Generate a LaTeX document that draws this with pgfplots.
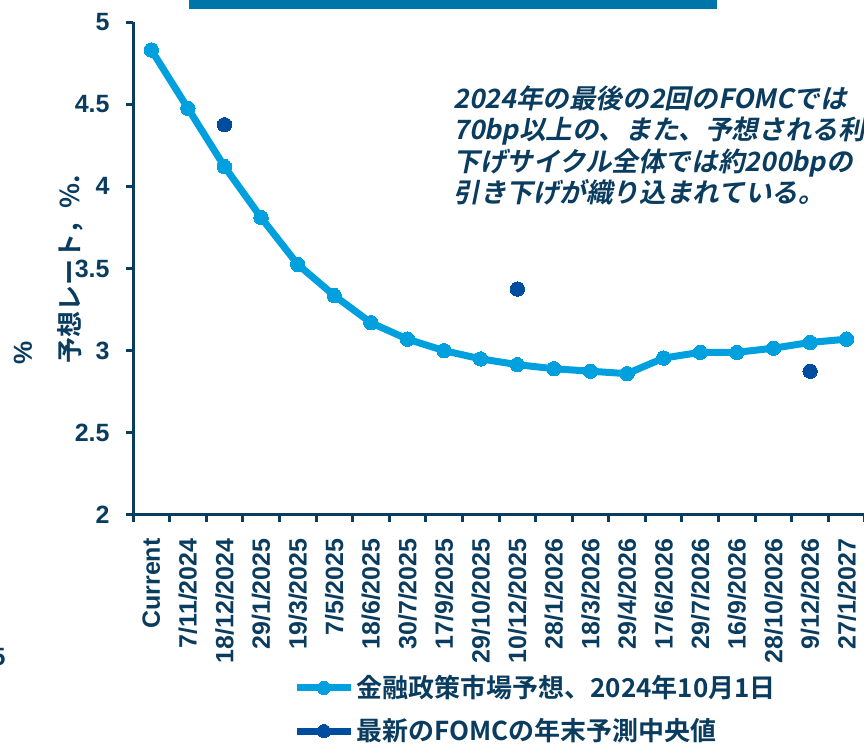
\documentclass[border=0pt]{standalone}
\usepackage{fontspec}
\usepackage{pgfplots}
\pgfplotsset{compat=1.18}
\setmainfont{Liberation Sans}
\newfontfamily\tickfont{Liberation Sans Bold}
\newfontfamily\jpb{Noto Sans CJK JP Bold}
\newfontfamily\jpbi{Noto Sans CJK JP Bold}[FakeSlant=0.2]

\definecolor{navy}{RGB}{10,60,95}
\definecolor{lineblue}{RGB}{0,160,223}
\definecolor{dotblue}{RGB}{0,77,160}
\definecolor{barblue}{RGB}{0,118,168}

\begin{document}
\begin{tikzpicture}[x=1pt,y=1pt]
\useasboundingbox (0,0) rectangle (432,372.5);
\clip (0,0) rectangle (432,372.5);
% banner strip along the top edge
\fill[barblue] (94.5,368) rectangle (358.5,372.5);
\begin{axis}[
  at={(66.5pt,115pt)}, anchor=south west,
  scale only axis, width=366pt, height=246.5pt,
  xmin=-0.5, xmax=19.5, ymin=2, ymax=5,
  axis x line=bottom, axis y line=left,
  axis line style={navy, line width=1.5pt, -},
  tick align=outside,
  major tick length=3.5pt, minor tick length=3.5pt,
  ytick={2,2.5,...,5},
  ytick style={navy, line width=1.5pt},
  xtick={0,...,19},
  major x tick style={draw=none},
  minor xtick={-0.5,0.5,...,19.5},
  minor x tick style={navy, line width=1.5pt},
  xticklabels={Current,7/11/2024,18/12/2024,29/1/2025,19/3/2025,7/5/2025,18/6/2025,30/7/2025,17/9/2025,29/10/2025,10/12/2025,28/1/2026,18/3/2026,29/4/2026,17/6/2026,29/7/2026,16/9/2026,28/10/2026,9/12/2026,27/1/2027},
  /pgf/number format/assume math mode=true,
  tick label style={font=\tickfont\fontsize{12.5}{14}\selectfont, text=navy, inner sep=0pt},
  xticklabel style={rotate=90, anchor=east},
  xticklabel shift=8pt,
  yticklabel shift=8pt,
  clip=false,
  legend style={at={(0.2186,-0.3945)}, anchor=west, draw=none, fill=none,
    inner sep=0pt, font=\jpb\fontsize{13}{15}\selectfont, text=navy,
    cells={anchor=west}, row sep=7pt, nodes={inner sep=1pt}},
  legend cell align=left,
]
\addplot[lineblue, line width=3.5pt, mark=*, mark size=3.6pt,
  mark options={fill=lineblue, draw=lineblue, line width=0pt},
  legend image code/.code={
    \draw[lineblue, line width=3.5pt] (0pt,0pt) -- (27pt,0pt);
    \draw[mark=*, mark size=3.3pt,
      mark options={fill=lineblue, draw=lineblue, line width=0pt}]
      plot coordinates {(13.5pt,0pt)};}]
  coordinates {(0,4.83)(1,4.475)(2,4.12)(3,3.81)(4,3.525)(5,3.335)(6,3.17)
    (7,3.07)(8,3.00)(9,2.95)(10,2.915)(11,2.89)(12,2.875)(13,2.86)
    (14,2.955)(15,2.99)(16,2.99)(17,3.015)(18,3.05)(19,3.07)};
\addlegendentry{金融政策市場予想、2024年10月1日}
\addplot[only marks, mark=*, mark size=3.6pt,
  mark options={fill=dotblue, draw=dotblue, line width=0pt},
  legend image code/.code={
    \draw[dotblue, line width=3.5pt] (0pt,0pt) -- (27pt,0pt);
    \draw[mark=*, mark size=3.3pt,
      mark options={fill=dotblue, draw=dotblue, line width=0pt}]
      plot coordinates {(13.5pt,0pt)};}]
  coordinates {(2,4.375)(10,3.375)(18,2.875)};
\addlegendentry{最新のFOMCの年末予測中央値}
\end{axis}
% axis titles
\node[rotate=90, text=navy, font=\jpb\fontsize{13}{15}\selectfont] at (35,238) {予想レート，\%.};
\node[rotate=90, text=navy, font=\tickfont\fontsize{13}{15}\selectfont] at (11.5,196) {\%};
% annotation
\node[anchor=north west, align=left, text=navy, inner sep=0pt,
  font=\jpbi\fontsize{13.3}{15.8}\selectfont] at (226.5,330)
  {2024年の最後の2回のFOMCでは\\70bp以上の、また、予想される利\\下げサイクル全体では約200bpの\\引き下げが織り込まれている。};
\node[anchor=east, text=navy, inner sep=0pt, font=\tickfont\fontsize{12.5}{14}\selectfont] at (3,44) {5};
\end{tikzpicture}
\end{document}
